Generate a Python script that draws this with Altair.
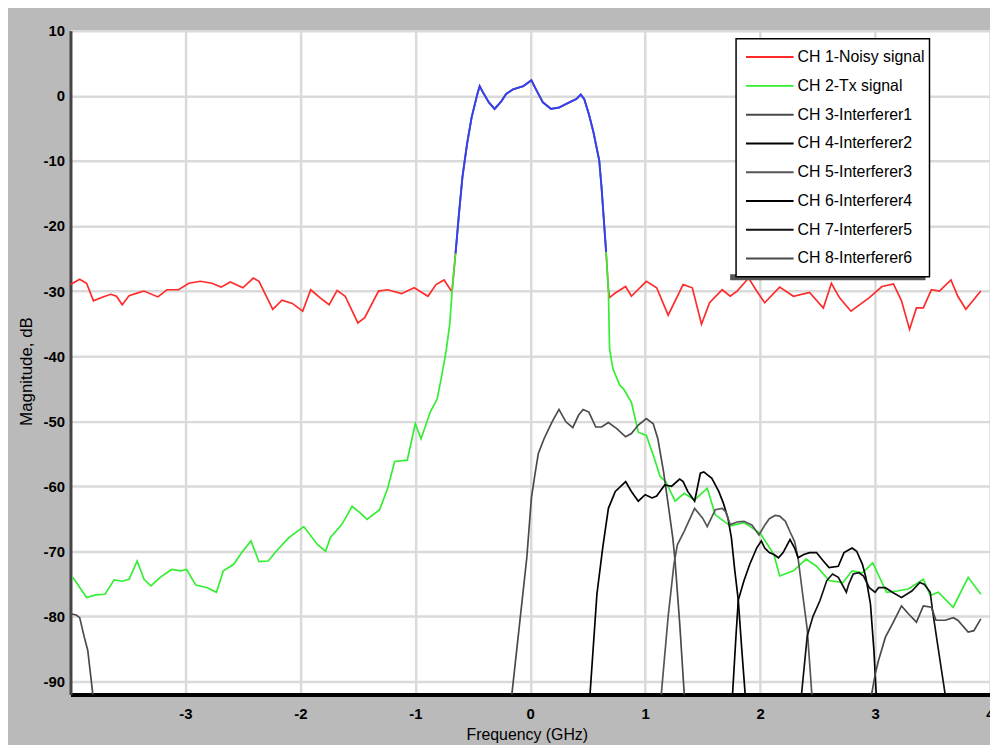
import altair as alt
import pandas as pd

FONT = "Liberation Sans, Arial, sans-serif"

CHANNELS = ["CH 1-Noisy signal", "CH 2-Tx signal", "CH 3-Interferer1", "CH 4-Interferer2",
            "CH 5-Interferer3", "CH 6-Interferer4", "CH 7-Interferer5", "CH 8-Interferer6"]
COLORS = ["#ff2a2a", "#33ee33", "#4a4a4a", "#000000", "#555555", "#000000", "#111111", "#4a4a4a"]

X_TICKS = [-3, -2, -1, 0, 1, 2, 3, 4]
Y_TICKS = [10, 0, -10, -20, -30, -40, -50, -60, -70, -80, -90]

# Pass band (shared by CH1, CH2 and the blue overlay)
pb_f = [-0.68, -0.65, -0.62, -0.59, -0.55, -0.51, -0.46, -0.44, -0.41, -0.36, -0.31, -0.25, -0.21,
        -0.15, -0.06, 0.01, 0.05, 0.11, 0.18, 0.25, 0.34, 0.40, 0.44, 0.47, 0.51, 0.55, 0.60,
        0.62, 0.64, 0.66, 0.68]
pb_db = [-30.0, -24.2, -18.1, -12.5, -7.4, -3.3, 0.3, 1.5, 0.5, -1.0, -2.0, -0.8, 0.3,
         1.0, 1.5, 2.4, 1.0, -1.0, -2.0, -1.8, -1.0, -0.5, 0.2, -0.5, -2.8, -5.6, -9.9,
         -14.0, -19.0, -24.0, -29.8]

# CH1 noise floor outside the band
ch1_left_f = [-4.00, -3.92, -3.86, -3.80, -3.73, -3.65, -3.60, -3.55, -3.49, -3.40, -3.36, -3.24,
              -3.16, -3.06, -2.97, -2.87, -2.77, -2.69, -2.61, -2.50, -2.41, -2.36, -2.24, -2.16,
              -2.07, -1.98, -1.91, -1.83, -1.75, -1.68, -1.61, -1.50, -1.44, -1.32, -1.24, -1.12,
              -1.01, -0.89, -0.82, -0.75, -0.69]
ch1_left_db = [-29.0, -28.2, -28.8, -31.5, -31.0, -30.5, -30.8, -32.1, -30.7, -30.2, -30.0, -30.9,
               -29.8, -29.8, -28.8, -28.5, -28.8, -29.4, -28.6, -29.5, -28.0, -28.5, -32.8, -31.4,
               -31.9, -33.1, -29.8, -31.0, -32.1, -29.9, -30.8, -34.9, -34.1, -30.0, -29.8, -30.4,
               -29.5, -30.8, -29.0, -28.3, -29.9]
ch1_right_f = [0.69, 0.74, 0.83, 0.88, 1.01, 1.10, 1.20, 1.33, 1.41, 1.49, 1.56, 1.67, 1.74, 1.80,
               1.90, 1.97, 2.04, 2.17, 2.29, 2.43, 2.55, 2.62, 2.69, 2.79, 2.95, 3.06, 3.16, 3.23,
               3.30, 3.36, 3.42, 3.49, 3.56, 3.66, 3.72, 3.79, 3.92]
ch1_right_db = [-31.0, -30.3, -29.3, -30.8, -28.5, -29.5, -33.7, -29.0, -29.5, -35.1, -31.8, -29.8,
                -30.8, -30.0, -28.0, -30.0, -31.8, -29.4, -30.8, -30.2, -32.6, -28.8, -31.0, -33.1,
                -31.0, -29.3, -28.9, -31.5, -35.9, -32.6, -32.6, -29.8, -30.0, -28.3, -30.8, -32.8,
                -30.0]

# CH2 skirts outside the band
ch2_left_f = [-3.98, -3.86, -3.78, -3.70, -3.62, -3.55, -3.49, -3.42, -3.36, -3.30, -3.22, -3.12,
              -3.04, -2.99, -2.91, -2.81, -2.73, -2.67, -2.58, -2.51, -2.43, -2.36, -2.28, -2.21,
              -2.10, -1.97, -1.85, -1.78, -1.74, -1.64, -1.55, -1.48, -1.42, -1.31, -1.24, -1.18,
              -1.07, -1.00, -0.95, -0.87, -0.81, -0.77, -0.73, -0.70]
ch2_left_db = [-74.0, -77.1, -76.7, -76.6, -74.4, -74.6, -74.3, -71.5, -74.3, -75.3, -74.0, -72.8,
               -73.0, -72.8, -75.2, -75.6, -76.3, -73.0, -72.0, -70.2, -68.4, -71.6, -71.5, -70.0,
               -67.9, -66.2, -69.0, -70.0, -67.9, -65.9, -63.1, -64.1, -65.1, -63.6, -60.3, -56.2,
               -56.0, -50.4, -52.7, -48.6, -46.6, -43.0, -39.0, -35.0]
ch2_right_f = [0.69, 0.72, 0.78, 0.81, 0.88, 0.94, 1.01, 1.07, 1.13, 1.18, 1.26, 1.34, 1.43, 1.54,
               1.61, 1.74, 1.86, 2.00, 2.12, 2.17, 2.29, 2.40, 2.49, 2.60, 2.72, 2.80, 2.89, 2.98,
               3.10, 3.19, 3.29, 3.42, 3.48, 3.55, 3.68, 3.81, 3.92]
ch2_right_db = [-38.9, -42.0, -44.5, -45.0, -47.1, -51.7, -52.2, -55.2, -58.5, -59.3, -62.3, -61.1,
                -62.1, -60.3, -64.4, -66.1, -65.6, -67.2, -70.5, -73.8, -73.0, -71.2, -72.3, -74.5,
                -74.8, -73.0, -73.3, -71.8, -76.3, -76.1, -75.8, -74.3, -76.8, -76.3, -78.6, -74.0,
                -76.6]

# Interferers
ch3_f = [-0.22, -0.16, -0.09, -0.03, 0.01, 0.04, 0.07, 0.12, 0.19, 0.25, 0.31, 0.37, 0.42, 0.46,
         0.51, 0.57, 0.62, 0.68, 0.75, 0.83, 0.88, 0.94, 1.01, 1.07, 1.11, 1.16, 1.20, 1.24, 1.26,
         1.30, 1.34, 1.40]
ch3_db = [-110, -92.0, -80.7, -71.0, -61.8, -58.3, -55.0, -52.7, -50.1, -48.2, -50.1, -51.0, -49.1,
          -48.2, -48.6, -50.9, -50.9, -50.2, -51.1, -52.4, -51.9, -50.6, -49.6, -50.4, -52.7, -57.8,
          -62.8, -67.9, -71.5, -81.0, -92.0, -110]
ch4_f = [0.46, 0.52, 0.58, 0.63, 0.68, 0.74, 0.83, 0.88, 0.94, 1.00, 1.06, 1.10, 1.17, 1.23, 1.30,
         1.33, 1.37, 1.43, 1.48, 1.51, 1.58, 1.64, 1.68, 1.72, 1.75, 1.78, 1.81, 1.84, 1.87, 1.93]
ch4_db = [-110, -92.0, -76.6, -69.5, -63.4, -60.8, -59.3, -60.8, -62.3, -61.3, -61.8, -61.5, -59.8,
          -60.0, -58.9, -59.3, -60.8, -62.3, -58.0, -57.8, -58.8, -60.8, -62.6, -64.9, -67.9, -73.0,
          -77.5, -85.0, -92.0, -110]
ch5_f = [1.08, 1.14, 1.20, 1.25, 1.28, 1.34, 1.43, 1.50, 1.54, 1.61, 1.67, 1.70, 1.74, 1.80, 1.86,
         1.93, 1.99, 2.04, 2.08, 2.13, 2.17, 2.22, 2.26, 2.30, 2.33, 2.37, 2.41, 2.45, 2.51]
ch5_db = [-110, -92.0, -80.0, -72.0, -69.0, -66.9, -63.4, -64.9, -66.2, -63.6, -63.4, -63.9, -65.9,
          -65.5, -65.4, -66.0, -67.5, -66.0, -65.0, -64.5, -64.6, -65.4, -67.0, -68.5, -71.0, -76.6,
          -82.0, -92.0, -110]
ch6_f = [1.70, 1.76, 1.79, 1.81, 1.86, 1.91, 1.97, 2.01, 2.04, 2.08, 2.12, 2.16, 2.20, 2.26, 2.30,
         2.33, 2.38, 2.43, 2.49, 2.55, 2.60, 2.68, 2.73, 2.80, 2.84, 2.89, 2.92, 2.96, 2.99, 3.01, 3.06]
ch6_db = [-110, -92.0, -83.0, -77.5, -74.5, -72.0, -69.5, -68.4, -69.5, -70.2, -70.5, -71.0, -70.2,
          -68.2, -69.5, -71.0, -70.5, -70.2, -70.2, -71.5, -72.5, -72.3, -70.2, -69.5, -70.0, -72.0,
          -74.0, -78.1, -85.2, -92.0, -110]
ch7_f = [2.30, 2.36, 2.41, 2.46, 2.52, 2.58, 2.63, 2.68, 2.72, 2.75, 2.77, 2.81, 2.86, 2.90, 2.95,
         3.00, 3.03, 3.09, 3.15, 3.23, 3.32, 3.39, 3.43, 3.48, 3.50, 3.55, 3.61, 3.66]
ch7_db = [-110, -92.0, -83.0, -80.0, -77.6, -74.5, -73.5, -74.0, -75.3, -76.3, -75.1, -73.5, -73.3,
          -73.8, -75.6, -76.3, -75.6, -75.6, -76.3, -77.1, -76.1, -74.8, -75.1, -76.3, -79.1, -85.0,
          -92.0, -110]
ch8_f = [2.92, 2.97, 3.00, 3.03, 3.09, 3.15, 3.23, 3.29, 3.36, 3.42, 3.49, 3.53, 3.61, 3.68, 3.72,
         3.81, 3.86, 3.92]
ch8_db = [-110, -92.0, -89.0, -86.8, -83.2, -81.2, -78.4, -79.6, -80.9, -78.4, -78.6, -80.6, -80.6,
          -80.2, -80.6, -82.4, -82.2, -80.4]
# CH8 wraps round to the left edge of the span
ch8_wrap_f = [-4.00, -3.95, -3.92, -3.88, -3.85, -3.81, -3.79, -3.75]
ch8_wrap_db = [-79.6, -79.8, -80.2, -83.2, -85.2, -91.3, -95.0, -110]

# blue overlay over the pass band
blue_lo, blue_hi = -0.65, 0.66

rows = []


def add(name, seg, fs, dbs):
    for f, d in zip(fs, dbs):
        rows.append({"channel": name, "seg": seg, "f": f, "db": d})


add(CHANNELS[0], "a", ch1_left_f + pb_f + ch1_right_f, ch1_left_db + pb_db + ch1_right_db)
add(CHANNELS[1], "a", ch2_left_f + pb_f + ch2_right_f, ch2_left_db + pb_db + ch2_right_db)
add(CHANNELS[2], "a", ch3_f, ch3_db)
add(CHANNELS[3], "a", ch4_f, ch4_db)
add(CHANNELS[4], "a", ch5_f, ch5_db)
add(CHANNELS[5], "a", ch6_f, ch6_db)
add(CHANNELS[6], "a", ch7_f, ch7_db)
add(CHANNELS[7], "a", ch8_f, ch8_db)
add(CHANNELS[7], "b", ch8_wrap_f, ch8_wrap_db)
df = pd.DataFrame(rows)

blue_df = pd.DataFrame({"f": pb_f, "db": pb_db})
blue_df = blue_df[(blue_df.f >= blue_lo) & (blue_df.f <= blue_hi)]

xscale = alt.Scale(domain=[-4, 4], nice=False, zero=False)
yscale = alt.Scale(domain=[-92, 10], nice=False, zero=False)

xaxis = alt.Axis(values=X_TICKS, title="Frequency (GHz)", labelExpr="'' + datum.value",
                 labelFlush=False, labelOverlap=False, labelBound=False, ticks=False,
                 domainColor="black", domainWidth=4, grid=True, gridColor="#dadada", gridWidth=2.5,
                 labelFont=FONT, labelFontSize=15, labelFontWeight="bold", labelPadding=12,
                 labelColor="black", titleFont=FONT, titleFontSize=16, titleFontWeight="normal",
                 titleColor="black", titleX=460, titleY=45, titleBaseline="alphabetic",
                 titleAlign="center")
yaxis = alt.Axis(values=Y_TICKS, title="Magnitude, dB", labelExpr="'' + datum.value",
                 labelOverlap=False, labelFlush=False, ticks=False, domainColor="#444444",
                 domainWidth=3, grid=True, gridColor="#dadada", gridWidth=2.5,
                 labelFont=FONT, labelFontSize=15, labelFontWeight="bold", labelPadding=6,
                 labelColor="black", titleFont=FONT, titleFontSize=17, titleFontWeight="normal",
                 titleColor="black", titleX=-44, titleY=343, titleAngle=-90,
                 titleBaseline="middle", titleAlign="center")

lines = alt.Chart(df).mark_line(clip=True, strokeWidth=1.7).encode(
    x=alt.X("f:Q", scale=xscale, axis=xaxis),
    y=alt.Y("db:Q", scale=yscale, axis=yaxis),
    color=alt.Color("channel:N", sort=CHANNELS,
                    scale=alt.Scale(domain=CHANNELS, range=COLORS),
                    legend=alt.Legend(orient="none", legendX=671, legendY=8, title=None,
                                      symbolType="stroke", symbolSize=2304, symbolStrokeWidth=2,
                                      labelFont=FONT, labelFontSize=16, labelColor="black",
                                      labelOffset=3, fillColor="white", strokeColor="black",
                                      padding=4, symbolOffset=5, rowPadding=0, clipHeight=29)),
    detail="seg:N",
    order=alt.Order("f:Q"),
)

blue = alt.Chart(blue_df).mark_line(clip=True, strokeWidth=2, color="#3a3aff").encode(
    x=alt.X("f:Q", scale=xscale),
    y=alt.Y("db:Q", scale=yscale),
)

shadow = alt.Chart(pd.DataFrame({"k": [0]})).mark_rule(color="#555555", strokeWidth=6).encode(
    x=alt.value(665), x2=alt.value(862), y=alt.value(248.5)
)

chart = alt.layer(lines, blue, shadow).properties(
    width=927, height=669,
    autosize=alt.AutoSizeParams(type="none"),
    padding={"left": 63, "top": 20, "right": 0, "bottom": 48},
    background="#bababa",
).configure_view(fill="white", stroke="black", strokeWidth=1).configure_legend(strokeWidth=1.5)

chart.save("out.html", embed_options={"renderer": "svg", "actions": False})
